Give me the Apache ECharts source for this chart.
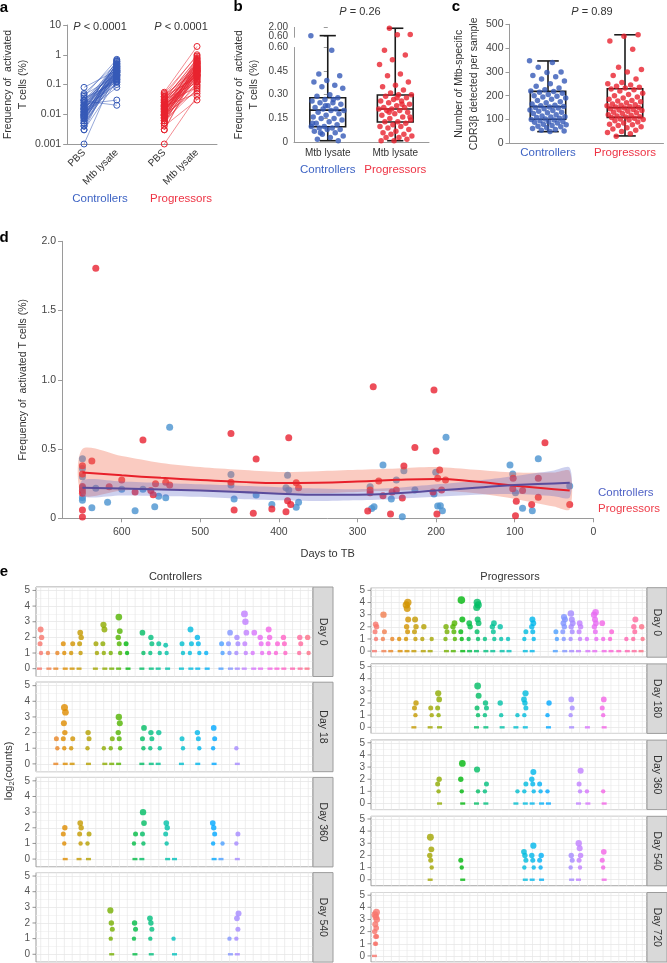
<!DOCTYPE html>
<html><head><meta charset="utf-8">
<script src="https://cdn.jsdelivr.net/npm/echarts@6/dist/echarts.min.js"></script>
<style>html,body{margin:0;padding:0;background:#fff}#c{width:667px;height:963px}</style>
</head><body><div id="c"></div>
<script>
// ================= DATA =================
// Panel a: paired PBS / Mtb lysate (log scale, %)
const aPositions = [1, 2, 3.45, 4.45];
const aTickLabels = ['PBS', 'Mtb lysate', 'PBS', 'Mtb lysate'];
const aCtrlPBS = [0.08,0.05,0.045,0.04,0.035,0.03,0.03,0.028,0.025,0.025,0.022,0.02,0.02,0.018,0.017,0.016,0.015,0.015,0.014,0.013,0.012,0.012,0.011,0.01,0.01,0.01,0.009,0.009,0.008,0.008,0.008,0.007,0.007,0.006,0.006,0.005,0.005,0.005,0.004,0.004,0.003,0.003,0.001,0.012,0.02,0.03,0.015,0.009];
const aCtrlMtb = [0.3,0.5,0.2,0.7,0.12,0.25,0.4,0.02,0.15,0.35,0.03,0.6,0.18,0.45,0.1,0.28,0.22,0.5,0.32,0.14,0.65,0.26,0.08,0.38,0.2,0.3,0.42,0.17,0.55,0.24,0.12,0.35,0.19,0.28,0.45,0.16,0.25,0.6,0.33,0.22,0.4,0.13,0.3,0.21,0.37,0.15,0.48,0.27];
const aProgPBS = [0.055,0.05,0.045,0.04,0.038,0.035,0.032,0.03,0.028,0.026,0.025,0.024,0.022,0.021,0.02,0.019,0.018,0.017,0.016,0.015,0.015,0.014,0.013,0.012,0.012,0.011,0.01,0.01,0.01,0.009,0.009,0.008,0.008,0.008,0.007,0.007,0.006,0.006,0.005,0.005,0.005,0.004,0.003,0.003,0.001,0.02,0.03,0.012,0.016,0.025,0.009,0.04,0.014,0.006,0.018,0.011];
const aProgMtb = [1.9,0.9,0.3,1.0,0.5,0.2,0.7,0.12,0.4,0.25,0.6,0.08,0.35,0.15,0.45,0.05,0.28,0.55,0.18,0.32,0.1,0.65,0.22,0.38,0.14,0.8,0.26,0.06,0.42,0.19,0.3,0.5,0.09,0.24,0.36,0.16,0.6,0.2,0.3,0.12,0.45,0.03,0.27,0.35,0.04,0.22,0.75,0.4,0.13,0.5,0.33,0.17,0.28,0.07,0.21,0.55];

// Panel b: Mtb lysate frequency (%), broken axis
const bCtrl = [0.62,0.58,0.43,0.42,0.39,0.38,0.36,0.35,0.34,0.3,0.29,0.28,0.27,0.26,0.25,0.25,0.24,0.23,0.22,0.21,0.21,0.2,0.2,0.19,0.18,0.17,0.16,0.15,0.15,0.14,0.13,0.12,0.11,0.1,0.1,0.09,0.09,0.08,0.08,0.07,0.06,0.05,0.04,0.03,0.02,0.01,0.23,0.12,0.27,0.06];
const bProg = [1.81,0.82,0.78,0.58,0.55,0.52,0.49,0.43,0.42,0.38,0.36,0.35,0.33,0.31,0.3,0.3,0.29,0.28,0.27,0.26,0.26,0.25,0.24,0.23,0.22,0.22,0.21,0.21,0.2,0.2,0.19,0.18,0.17,0.16,0.15,0.14,0.13,0.13,0.12,0.11,0.1,0.1,0.09,0.08,0.07,0.06,0.05,0.05,0.04,0.03,0.03,0.02,0.01,0.01,0.24,0.19,0.16,0.28];
const bBoxCtrl = [0.01, 0.098, 0.203, 0.281, 0.62];   // min, Q1, median, Q3, max
const bBoxProg = [0.01, 0.128, 0.21, 0.298, 1.81];
const bTickLower = [0, 0.15, 0.30, 0.45, 0.60];
const bTickUpper = [0.60, 2.00];

// Panel c: number of Mtb-specific CDR3b per sample
const cCtrl = [347,340,320,300,298,285,280,270,262,250,240,232,225,220,218,215,210,205,200,198,195,190,185,180,175,170,165,160,158,155,152,150,148,145,140,138,135,130,128,125,120,115,112,110,108,105,102,100,98,95,92,90,88,85,80,78,75,72,70,65,62,58,55,52,50];
const cProg = [456,450,430,395,320,310,300,285,270,255,250,245,240,235,232,228,225,220,210,205,200,195,190,185,180,178,175,170,165,162,160,158,155,153,150,148,145,142,140,138,135,130,128,125,120,118,115,112,110,108,105,102,100,98,95,90,85,80,78,75,70,65,60,55,50,45,40,30];
const cBoxCtrl = [49, 101, 154, 218, 346];
const cBoxProg = [31, 109, 150, 229, 456];

// Panel d: frequency vs days to TB
const dCtrlDays = [650,650,650,650,650,650,638,633,618,600,583,573,558,553,544,539,461,461,457,429,409,389,391,387.5,375,378,267.6,241,284,250.6,227,257,202.7,200.5,198,194.6,192,279,282,243,187.4,106,102.5,99,90,77.6,70,30];
const dCtrlVals = [0.43,0.36,0.30,0.22,0.15,0.13,0.077,0.217,0.115,0.21,0.055,0.21,0.084,0.16,0.149,0.657,0.317,0.24,0.14,0.168,0.1,0.31,0.22,0.205,0.116,0.08,0.385,0.344,0.228,0.277,0.204,0.14,0.175,0.332,0.089,0.09,0.055,0.084,0.07,0.012,0.585,0.385,0.32,0.185,0.072,0.055,0.43,0.233];
const dProgDays = [633,650,650,650,650,650,650,650,638,616,600,583,573,563,560,557,544,539,461,461,457,432.6,429,409,387.5,391,389,385,378,375,227,200,61.5,241,195.5,273,198,188,284,284,267.6,256,250.6,243,204,193,287,258,199,102,102.5,90,70,70,98,78.4,99,30,280,202.7];
const dProgVals = [1.805,0.38,0.32,0.23,0.2,0.18,0.06,0.01,0.413,0.228,0.277,0.19,0.565,0.2,0.17,0.25,0.26,0.24,0.613,0.26,0.06,0.036,0.428,0.067,0.582,0.048,0.127,0.1,0.257,0.22,0.512,0.486,0.546,0.378,0.349,0.269,0.289,0.277,0.204,0.185,0.163,0.19,0.205,0.146,0.19,0.205,0.053,0.031,0.031,0.289,0.214,0.2,0.289,0.152,0.123,0.1,0.019,0.1,0.95,0.927];
const loessDays = [650,600,550,500,450,400,350,300,250,200,150,100,50,30];
const redFit  = [0.33,0.31,0.292,0.277,0.263,0.254,0.256,0.265,0.278,0.284,0.265,0.235,0.21,0.2];
const redLo   = [0.17,0.2,0.21,0.2,0.19,0.18,0.18,0.19,0.2,0.2,0.18,0.14,0.085,0.065];
const redHi   = [0.5,0.45,0.4,0.37,0.35,0.335,0.34,0.35,0.36,0.37,0.35,0.33,0.33,0.34];
const blueFit = [0.22,0.215,0.208,0.2,0.19,0.178,0.17,0.17,0.18,0.2,0.22,0.24,0.252,0.257];
const blueLo  = [0.16,0.165,0.16,0.155,0.14,0.13,0.125,0.13,0.14,0.155,0.17,0.175,0.16,0.15];
const blueHi  = [0.275,0.265,0.255,0.245,0.235,0.225,0.215,0.21,0.22,0.245,0.27,0.305,0.345,0.365];

// Panel e: log2(counts) per clone column (column index, values)
const N_COLS = 35;
const ctrlFacetNames = ['Day 0', 'Day 18', 'Day 360', 'Day 540'];
const progFacetNames = ['Day 0', 'Day 180', 'Day 360', 'Day 540', 'Day 720'];
const ctrlDay0 = [[0,[0,1,1.6,2,2.5]],[1,[0,1]],[2,[0,1]],[3,[0,1,1.6]],[4,[0,1,1.6]],[5,[0,1,1.6,2,2.3]],[7,[0,1,1.6]],[8,[0,1,1.6,2.5,2.8]],[9,[0,1]],[10,[0,1,1.6,2,2.4,3.3]],[11,[0,1,1.6]],[13,[0,1,2.3]],[14,[0,1,1.6,2]],[15,[0,1,1.6]],[16,[0,1,1.5]],[18,[0,1,1.6]],[19,[0,1,1.6,2.5]],[20,[0,1,1.6,2]],[21,[0,1]],[23,[0,1,1.6]],[24,[0,1,1.6,2.3]],[25,[0,1,1.6,2]],[26,[0,1,1.6,2.3,3,3.5]],[27,[0,1,2.3]],[28,[0,1,1.6,2]],[29,[0,1,1.6,2,2.5]],[30,[0,1,1.6]],[31,[0,1,1.6,2]],[32,[0]],[33,[0,1,1.6,2]],[34,[0,1,2]]];
const ctrlDay18 = [[2,[0,1,1.6]],[3,[0,1,1.6,2,2.6,3.3,3.6]],[4,[0,1,1.6]],[6,[0,1,1.6,2]],[8,[0,1]],[9,[0,1,1.6]],[10,[0,1,1.6,2,2.6,3]],[13,[0,1,1.6,2.3]],[14,[0,1,1.6,2]],[15,[0,1,2]],[18,[0,1,1.6]],[20,[0,1,1.6,2]],[22,[0,1,1.6,2.3]],[25,[0,1]]];
const ctrlDay360 = [[3,[0,1,1.6,2]],[5,[0,1,1.6,2,2.3]],[6,[0,1,1.6]],[12,[0,1,1.6]],[13,[0,1,1.6,2.3,3]],[16,[0,1,1.6,2,2.3]],[17,[0]],[22,[0,1,1.6,2,2.3]],[23,[0,1]],[25,[0,1,1.6]]];
const ctrlDay540 = [[9,[0,1,1.6,2,2.8]],[12,[0,1,1.6,2]],[14,[0,1,1.6,2,2.3]],[17,[0,1]],[24,[0,1]],[25,[0,1,1.6,2.3,2.6]]];
const progDay0 = [[0,[0,1,1.6,2,2.2]],[1,[0,1,1.6,3]],[2,[0,1]],[3,[0,1]],[4,[0,1,1.6,2,2.6,3.5,3.8,4]],[5,[0,1,1.6,2,2.6]],[6,[0,1,2]],[7,[0,1]],[9,[0,1,1.6,2]],[10,[0,1,1.6,2,2.3]],[11,[0,1,1.6,2.6,4.2]],[12,[0,1,2,2.3]],[13,[0,1,1.6,2.3,2.6,3.6,3.8,4]],[14,[0,1]],[15,[0,1,1.6,2,2.3]],[16,[0,1,2]],[17,[0,1]],[19,[0,1,1.6]],[20,[0,1,1.6,2,2.3,2.6]],[23,[0,1,1.6]],[24,[0,1,1.6,2,2.3,2.6,2.8]],[25,[0,1,1.6,2,2.3,2.6,3.1]],[26,[0,1,1.6,2,2.3]],[27,[0,1]],[28,[0,1,1.6,2,2.3,2.6,3,3.2]],[29,[0,1,2.3]],[30,[0,1,1.6]],[31,[0]],[32,[0,1]],[33,[0,1,1.6,2,2.6]],[34,[0,1,2]]];
const progDay180 = [[5,[0,1,1.6,2]],[7,[0,1,1.6]],[8,[0,1,1.6,2.3,2.8]],[13,[0,1,1.6,2.6,3.4]],[14,[0,1,1.6,2]],[16,[0,1,2]],[18,[0,1]],[19,[0,1,1.6,2,2.3,2.8]],[22,[0,1,2]],[25,[0,1,1.6,2.3]],[27,[0]],[29,[0,1,1.6,2.3]]];
const progDay360 = [[8,[0,1,1.6,2]],[11,[0,1,2,3.3]],[13,[0,1,2.8]],[14,[0,1,1.6]],[18,[0,1]],[19,[0,1,1.6]],[20,[0,1,1.6,2,2.6]],[21,[0,1,1.6]],[22,[0,1]],[26,[0,1,1.6,2.7]],[27,[0,1]],[29,[0,1]]];
const progDay540 = [[7,[0,1,1.6,2,2.5,3.5]],[11,[0,1,1.6]],[19,[0,1,1.6,2,2.3]],[20,[0,1,1.6,2,2.8]],[21,[0,1,1.6,2]],[25,[0,1,1.6,2]],[26,[0,1,1.6,2,2.6,3]],[29,[0,1,1.6,2.3]]];
const progDay720 = [[0,[0,1,1,1.6,1.6,2,2.3,2.6,3,3.2,3.4,3.6]]];
const eYLabels = [0, 1, 2, 3, 4, 5];

// ================= STYLE / HELPERS =================
const FONT = '"Liberation Sans", Arial, sans-serif';
const AX = '#9a9a9a';
const BLUE = '#3559b7', RED = '#e8222e';
const BLUE_TXT = '#3d63c4', RED_TXT = '#ee3344';
const D_BLUE = '#4a92d0', D_RED = '#e82231';

function hclHex(h, c, l) {
  const hr = h * Math.PI / 180, U = c * Math.cos(hr), V = c * Math.sin(hr);
  const Xn = 0.95047, Yn = 1, Zn = 1.08883;
  const Y = l > 8 ? Math.pow((l + 16) / 116, 3) : l / 903.3;
  const den = Xn + 15 * Yn + 3 * Zn, un = 4 * Xn / den, vn = 9 * Yn / den;
  const u = U / (13 * l) + un, v = V / (13 * l) + vn;
  const X = 9 * Y * u / (4 * v), Z = Y * (12 - 3 * u - 20 * v) / (4 * v);
  const lin = [3.2404542*X - 1.5371385*Y - 0.4985314*Z, -0.9692660*X + 1.8760108*Y + 0.0415560*Z, 0.0556434*X - 0.2040259*Y + 1.0572252*Z];
  return '#' + lin.map(t => { t = t <= 0.0031308 ? 12.92 * t : 1.055 * Math.pow(t, 1 / 2.4) - 0.055; t = Math.max(0, Math.min(1, t)); return Math.round(t * 255).toString(16).padStart(2, '0'); }).join('');
}
const colColor = col => hclHex(15 + 360 * col / N_COLS, 100, 65);

// broken axis of panel b
const B_BREAK = 0.6, B_UP0 = 0.6713, B_UPS = 0.0391;
const bT = (v, upper) => (v <= B_BREAK && !upper) ? v : B_UP0 + (v - B_BREAK) * B_UPS;
const bTickLowT = bTickLower.map(v => bT(v));
const bTickUpT = bTickUpper.map(v => bT(v, true));
const bTickT = bTickLowT.concat(bTickUpT);
const bTickText = bTickLower.concat(bTickUpper).map(v => v === 0 ? '0' : v.toFixed(2));
const bTop = bT(2.0, true) + 0.0005;

// deterministic low-discrepancy jitter (golden ratio sequence)
const jit = (i, w) => (((i * 0.6180339887) % 1) - 0.5) * 2 * w;
const lookup = (pos, labels, v) => { const i = pos.findIndex(p => Math.abs(p - v) < 1e-3); return i >= 0 ? labels[i] : ''; };

// ================= LAYOUT =================
const grids = [
  { left: 66, top: 25, width: 151, height: 119 },          // a
  { left: 294, top: 27, width: 135, height: 115.3 },       // b
  { left: 509.5, top: 24.3, width: 154, height: 119 },     // c
  { left: 62, top: 241.3, width: 531.3, height: 277 }      // d
];
const CTRL_L = 36, CTRL_W = 277, CTRL_TOP = 587, CTRL_STEP = 95.2, CTRL_H = 89.5;
const PROG_L = 371, PROG_W = 276, PROG_TOP = 587.7, PROG_STEP = 76.2, PROG_H = 69.5;
const STRIP_W = 20;
const facets = [];
[ctrlDay0, ctrlDay18, ctrlDay360, ctrlDay540].forEach((d, i) => facets.push({ data: d, name: ctrlFacetNames[i], left: CTRL_L, top: CTRL_TOP + i * CTRL_STEP, width: CTRL_W, height: CTRL_H }));
[progDay0, progDay180, progDay360, progDay540, progDay720].forEach((d, i) => facets.push({ data: d, name: progFacetNames[i], left: PROG_L, top: PROG_TOP + i * PROG_STEP, width: PROG_W, height: PROG_H }));
facets.forEach(f => grids.push({ left: f.left, top: f.top, width: f.width, height: f.height, show: true, borderColor: '#9c9c9c', borderWidth: 1, backgroundColor: '#fff' }));

const labelStyle = { fontFamily: FONT, fontSize: 10.5, color: '#444', hideOverlap: false };
const nameStyle = { fontFamily: FONT, fontSize: 10.5, color: '#333', lineHeight: 15 };

// ================= AXES =================
const xAxis = [
  { gridIndex: 0, type: 'value', min: 0.485, max: 5.06, axisLine: { lineStyle: { color: AX } }, axisTick: { show: false }, splitLine: { show: false },
    axisLabel: Object.assign({}, labelStyle, { color: '#333', fontSize: 10, customValues: aPositions, formatter: v => lookup(aPositions, aTickLabels, v), rotate: 45, margin: 7 }) },
  { gridIndex: 1, type: 'value', min: -0.5, max: 1.5, axisLine: { lineStyle: { color: AX } }, axisTick: { show: false }, splitLine: { show: false },
    axisLabel: Object.assign({}, labelStyle, { color: '#333', fontSize: 10, lineHeight: 13, margin: 4, customValues: [0, 1],
      formatter: v => v < 0.5 ? 'Mtb lysate\n{c|Controllers}' : 'Mtb lysate\n{p|Progressors}',
      rich: { c: { color: BLUE_TXT, fontSize: 11.5, lineHeight: 21, fontFamily: FONT }, p: { color: RED_TXT, fontSize: 11.5, lineHeight: 21, fontFamily: FONT } } }) },
  { gridIndex: 2, type: 'value', min: -0.5, max: 1.5, axisLine: { lineStyle: { color: AX } }, axisTick: { show: false }, splitLine: { show: false },
    axisLabel: Object.assign({}, labelStyle, { margin: 4, customValues: [0, 1],
      formatter: v => v < 0.5 ? '{c|Controllers}' : '{p|Progressors}',
      rich: { c: { color: BLUE_TXT, fontSize: 11.5, fontFamily: FONT }, p: { color: RED_TXT, fontSize: 11.5, fontFamily: FONT } } }) },
  { gridIndex: 3, type: 'value', inverse: true, min: 0, max: 676, interval: 100, name: 'Days to TB', nameLocation: 'middle', nameGap: 30,
    nameTextStyle: { fontFamily: FONT, fontSize: 11, color: '#333' }, axisLine: { onZero: false, lineStyle: { color: AX } }, axisTick: { length: 4, lineStyle: { color: AX } },
    splitLine: { show: false }, axisLabel: Object.assign({}, labelStyle, { margin: 8, showMaxLabel: false }) }
];
const yAxis = [
  { gridIndex: 0, type: 'log', logBase: 10, min: 0.001, max: 10, axisLine: { show: true, onZero: false, lineStyle: { color: AX } }, axisTick: { show: true, length: 4, lineStyle: { color: AX } },
    splitLine: { show: false }, axisLabel: Object.assign({}, labelStyle, { margin: 6, formatter: v => String(Math.round(v * 1000) / 1000) }),
    name: 'Frequency of  activated\nT cells (%)', nameLocation: 'middle', nameGap: 31.5, nameTextStyle: nameStyle },
  { gridIndex: 1, type: 'value', min: 0, max: bTop, axisLine: { show: false }, axisTick: { show: true, length: 4, customValues: bTickT, lineStyle: { color: AX } },
    splitLine: { show: false }, axisLabel: Object.assign({}, labelStyle, { fontSize: 10, margin: 6, customValues: bTickLowT, formatter: v => lookup(bTickT, bTickText, v) }),
    name: 'Frequency of  activated\nT cells (%)', nameLocation: 'middle', nameGap: 32.5, nameTextStyle: nameStyle },
  { gridIndex: 2, type: 'value', min: 0, max: 500, interval: 100, axisLine: { show: true, onZero: false, lineStyle: { color: AX } }, axisTick: { show: true, length: 4, lineStyle: { color: AX } },
    splitLine: { show: false }, axisLabel: Object.assign({}, labelStyle, { margin: 6 }),
    name: 'Number of Mtb-specific\nCDR3β detected per sample', nameLocation: 'middle', nameGap: 26.5, nameTextStyle: nameStyle },
  { gridIndex: 3, type: 'value', min: 0, max: 2, interval: 0.5, axisLine: { show: true, onZero: false, lineStyle: { color: AX } }, axisTick: { show: true, length: 4, lineStyle: { color: AX } },
    splitLine: { show: false }, axisLabel: Object.assign({}, labelStyle, { margin: 6, formatter: v => v === 0 ? '0' : v.toFixed(1) }),
    name: 'Frequency of  activated T cells (%)', nameLocation: 'middle', nameGap: 29.5, nameTextStyle: nameStyle }
];
facets.forEach((f, k) => {
  xAxis.push({ gridIndex: 4 + k, type: 'value', min: -0.6, max: N_COLS - 0.4, show: false });
  yAxis.push({ gridIndex: 4 + k, type: 'value', min: -0.5, max: 5.22, interval: 0.5, axisLine: { show: false }, axisTick: { show: false },
    splitLine: { show: true, lineStyle: { color: ['#f1f1f1', '#e4e4e4'], width: 0.7 } },
    axisLabel: Object.assign({}, labelStyle, { fontSize: 10, color: '#555', margin: 6, formatter: v => (Math.abs(v - Math.round(v)) < 1e-6 && eYLabels.indexOf(Math.round(v)) >= 0) ? String(Math.round(v)) : '' }) });
});

// ================= SERIES =================
const series = [];
// ---- panel a ----
function pairSeries(pbs, mtb, xPbs, xMtb, color) {
  pbs.forEach((v, i) => series.push({ type: 'line', xAxisIndex: 0, yAxisIndex: 0, silent: true, z: 3,
    data: [[xPbs, v], [xMtb, mtb[i]]], symbol: 'circle', symbolSize: 6, showSymbol: true,
    lineStyle: { color: color, width: 0.7, opacity: 0.75 }, itemStyle: { color: 'rgba(255,255,255,0)', borderColor: color, borderWidth: 1 } }));
}
pairSeries(aCtrlPBS, aCtrlMtb, aPositions[0], aPositions[1], BLUE);
pairSeries(aProgPBS, aProgMtb, aPositions[2], aPositions[3], RED);

// ---- box renderer for b, c ----
function boxRenderer(boxW, capW) {
  return function (params, api) {
    const c = api.value(0);
    const v = [1, 2, 3, 4, 5].map(k => api.value(k));
    const P = (dx, y) => api.coord([c + dx, y]);
    const st = { stroke: '#1b1b1b', lineWidth: 1.6, fill: 'none' };
    const ln = (a, b) => ({ type: 'line', shape: { x1: a[0], y1: a[1], x2: b[0], y2: b[1] }, style: st });
    const tl = P(-boxW / 2, v[3]), br = P(boxW / 2, v[1]);
    return { type: 'group', children: [
      { type: 'rect', shape: { x: tl[0], y: tl[1], width: br[0] - tl[0], height: br[1] - tl[1] }, style: st },
      ln(P(-boxW / 2, v[2]), P(boxW / 2, v[2])),
      ln(P(0, v[0]), P(0, v[1])), ln(P(0, v[3]), P(0, v[4])),
      ln(P(-capW / 2, v[0]), P(capW / 2, v[0])), ln(P(-capW / 2, v[4]), P(capW / 2, v[4]))
    ] };
  };
}
// ---- panel b ----
series.push({ type: 'custom', xAxisIndex: 1, yAxisIndex: 1, silent: true, z: 2, renderItem: boxRenderer(0.53, 0.24),
  data: [[0].concat(bBoxCtrl.map(v => bT(v))), [1].concat(bBoxProg.map(v => bT(v)))] });
series.push({ type: 'scatter', xAxisIndex: 1, yAxisIndex: 1, silent: true, z: 3, symbolSize: 5.5, itemStyle: { color: BLUE },
  data: bCtrl.map((v, i) => [jit(i, 0.25), bT(v)]),
  markLine: { silent: true, symbol: ['none', 'none'], label: { show: false }, lineStyle: { color: AX, width: 1, type: 'solid' }, animation: false,
    data: [[{ coord: [-0.5, 0] }, { coord: [-0.5, B_BREAK] }], [{ coord: [-0.5, B_UP0 - 0.012] }, { coord: [-0.5, bTop] }]] } });
series.push({ type: 'scatter', xAxisIndex: 1, yAxisIndex: 1, silent: true, z: 3, symbolSize: 5.5, itemStyle: { color: RED },
  data: bProg.map((v, i) => [1 + jit(i + 7, 0.25), bT(v)]) });
// ---- panel c ----
series.push({ type: 'custom', xAxisIndex: 2, yAxisIndex: 2, silent: true, z: 2, renderItem: boxRenderer(0.46, 0.28),
  data: [[0].concat(cBoxCtrl), [1].concat(cBoxProg)] });
series.push({ type: 'scatter', xAxisIndex: 2, yAxisIndex: 2, silent: true, z: 3, symbolSize: 5.5, itemStyle: { color: BLUE },
  data: cCtrl.map((v, i) => [jit(i, 0.24), v]) });
series.push({ type: 'scatter', xAxisIndex: 2, yAxisIndex: 2, silent: true, z: 3, symbolSize: 5.5, itemStyle: { color: RED },
  data: cProg.map((v, i) => [1 + jit(i + 3, 0.24), v]) });
// ---- panel d ----
series.push({ type: 'scatter', xAxisIndex: 3, yAxisIndex: 3, silent: true, z: 2, symbolSize: 7, itemStyle: { color: D_BLUE },
  data: dCtrlDays.map((d, i) => [d, dCtrlVals[i]]) });
series.push({ type: 'scatter', xAxisIndex: 3, yAxisIndex: 3, silent: true, z: 2, symbolSize: 7, itemStyle: { color: D_RED },
  data: dProgDays.map((d, i) => [d, dProgVals[i]]) });
function bandSeries(lo, hi, fill) {
  return { type: 'custom', xAxisIndex: 3, yAxisIndex: 3, silent: true, z: 3, data: [[loessDays[0], lo[0]]],
    renderItem: (params, api) => {
      const pts = loessDays.map((d, i) => api.coord([d, hi[i]]));
      for (let i = loessDays.length - 1; i >= 0; i--) pts.push(api.coord([loessDays[i], lo[i]]));
      return { type: 'polygon', shape: { points: pts, smooth: 0.3 }, style: { fill: fill } };
    } };
}
series.push(bandSeries(redLo, redHi, 'rgba(240,112,82,0.36)'));
series.push(bandSeries(blueLo, blueHi, 'rgba(88,98,200,0.30)'));
series.push({ type: 'line', xAxisIndex: 3, yAxisIndex: 3, silent: true, z: 4, smooth: true, symbol: 'none',
  lineStyle: { color: '#e8202a', width: 2 }, data: loessDays.map((d, i) => [d, redFit[i]]) });
series.push({ type: 'line', xAxisIndex: 3, yAxisIndex: 3, silent: true, z: 4, smooth: true, symbol: 'none',
  lineStyle: { color: '#5a4c9c', width: 2 }, data: loessDays.map((d, i) => [d, blueFit[i]]) });

// ---- panel e facets ----
const allCols = Array.from({ length: N_COLS }, (_, i) => [i]);
facets.forEach((f, k) => {
  const ai = 4 + k;
  series.push({ type: 'custom', xAxisIndex: ai, yAxisIndex: ai, silent: true, z: 1, data: allCols,
    renderItem: (params, api) => {
      const x = api.coord([api.value(0), 0])[0]; const cs = params.coordSys;
      return { type: 'line', shape: { x1: x, y1: cs.y, x2: x, y2: cs.y + cs.height }, style: { stroke: '#e6e6e6', lineWidth: 0.7 } };
    } });
  series.push({ type: 'custom', xAxisIndex: ai, yAxisIndex: ai, silent: true, z: 1, data: eYLabels.map(v => [v]),
    renderItem: (params, api) => {
      const y = api.coord([0, api.value(0)])[1]; const cs = params.coordSys;
      return { type: 'line', shape: { x1: cs.x - 3.5, y1: y, x2: cs.x, y2: y }, style: { stroke: '#777', lineWidth: 0.8 } };
    } });
  const pts = [];
  f.data.forEach(([col, ys]) => ys.forEach((y, j) => {
    const dx = ys.length > 1 ? jit(j + col, 0.16) : 0;
    pts.push({ value: [col + dx, y], symbol: y === 0 ? 'rect' : 'circle', symbolSize: y === 0 ? [5, 2.4] : 3.4 + y, itemStyle: { color: colColor(col) } });
  }));
  series.push({ type: 'scatter', xAxisIndex: ai, yAxisIndex: ai, silent: true, z: 3, clip: false, data: pts });
});

// ================= GRAPHIC TEXT =================
const T = (text, x, y, opt) => Object.assign({ type: 'text', x: x, y: y, silent: true, z: 10,
  style: Object.assign({ text: text, font: '11px ' + FONT, fill: '#333', align: 'center', verticalAlign: 'middle' }, (opt && opt.style) || {}) },
  opt && opt.rotation !== undefined ? { rotation: opt.rotation } : {});
const italicP = { rich: { i: { fontStyle: 'italic', fontFamily: FONT, fontSize: 11, fill: '#333' } } };
// pixel position of the broken-axis labels of panel b (same mapping as the grid: top 27, height 115.3)
const bPix = t => 27 + 115.3 * (1 - t / bTop);
const graphic = [
  T('a', 4, 8, { style: { font: 'bold 15px ' + FONT, fill: '#000' } }),
  T('b', 238, 7, { style: { font: 'bold 15px ' + FONT, fill: '#000' } }),
  T('c', 456, 7, { style: { font: 'bold 15px ' + FONT, fill: '#000' } }),
  T('d', 4, 238, { style: { font: 'bold 15px ' + FONT, fill: '#000' } }),
  T('e', 4, 572, { style: { font: 'bold 15px ' + FONT, fill: '#000' } }),
  T('{i|P} < 0.0001', 100, 27, { style: italicP }),
  T('{i|P} < 0.0001', 181, 27, { style: italicP }),
  T('{i|P} = 0.26', 360, 12, { style: italicP }),
  T('{i|P} = 0.89', 592, 12, { style: italicP }),
  T(bTickText[5], 288, bPix(bTickUpT[0]) + 0.5, { style: { font: '10px ' + FONT, fill: '#444', align: 'right' } }),
  T(bTickText[6], 288, bPix(bTickUpT[1]), { style: { font: '10px ' + FONT, fill: '#444', align: 'right' } }),
  T('Controllers', 100, 199, { style: { fill: BLUE_TXT, font: '11.5px ' + FONT } }),
  T('Progressors', 181, 199, { style: { fill: RED_TXT, font: '11.5px ' + FONT } }),
  T('Controllers', 598, 493, { style: { fill: '#4f62c6', font: '11.5px ' + FONT, align: 'left' } }),
  T('Progressors', 598, 509, { style: { fill: '#ee3b48', font: '11.5px ' + FONT, align: 'left' } }),
  T('Controllers', CTRL_L + CTRL_W / 2 + 1, 577, {}),
  T('Progressors', PROG_L + PROG_W / 2 + 1, 577, {}),
  T('log{s|2}(counts)', 9, 771, { rotation: Math.PI / 2, style: { rich: { s: { fontSize: 7.5, fontFamily: FONT, verticalAlign: 'bottom', padding: [6, 0, 0, 0] } } } })
];
facets.forEach(f => {
  graphic.push({ type: 'rect', silent: true, z: 9, shape: { x: f.left + f.width, y: f.top, width: STRIP_W, height: f.height },
    style: { fill: '#d9d9d9', stroke: '#9c9c9c', lineWidth: 1 } });
  graphic.push(T(f.name, f.left + f.width + STRIP_W / 2, f.top + f.height / 2, { rotation: -Math.PI / 2, style: { font: '10.5px ' + FONT } }));
});

const chart = echarts.init(document.getElementById('c'), null, { renderer: 'canvas', width: 667, height: 963 });
chart.setOption({ animation: false, backgroundColor: '#fff', textStyle: { fontFamily: FONT }, grid: grids, xAxis: xAxis, yAxis: yAxis, series: series, graphic: graphic });
</script>
</body></html>
